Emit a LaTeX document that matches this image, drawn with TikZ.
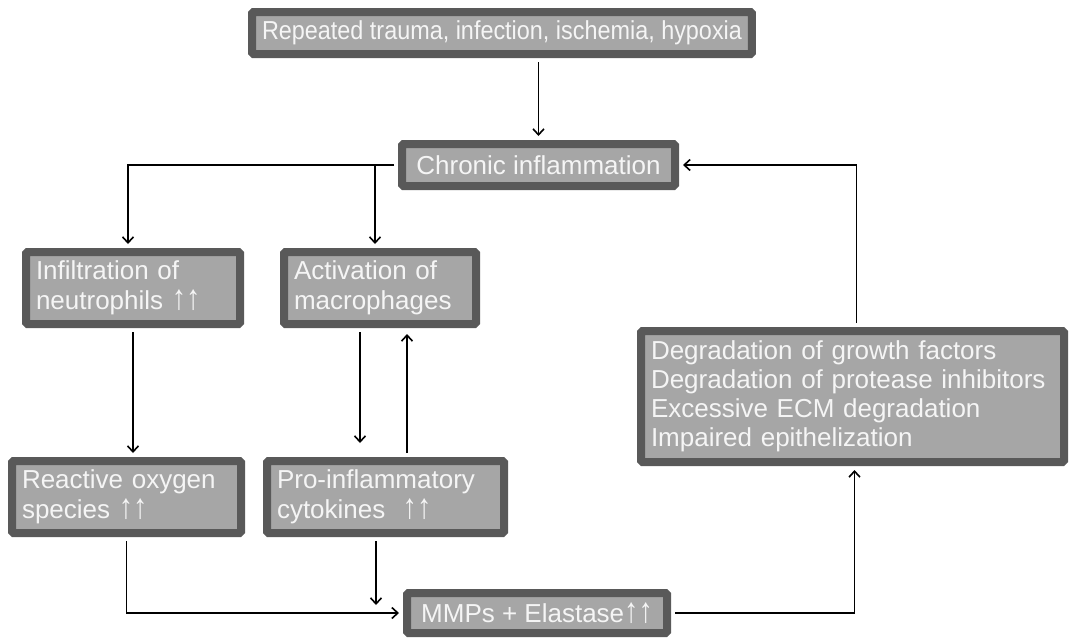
\documentclass[tikz,border=0pt]{standalone}
\usepackage{fontspec}
\usepackage{graphicx}
\setmainfont{Liberation Sans}
\usetikzlibrary{arrows.meta, positioning, calc}
\definecolor{woundgray}{RGB}{89, 89, 89}
\definecolor{woundfill}{RGB}{166, 166, 166}
\definecolor{woundtext}{RGB}{245, 245, 245}
\newcommand{\rise}{\scalebox{1.1}[1.35]{↑}}

\begin{document}
\begin{tikzpicture}[x=1pt, y=-1pt,
  stage/.style={draw=woundgray, fill=woundfill, line width=8pt, rounded corners=1.5pt,
    text=woundtext, font=\fontsize{26}{30}\selectfont, inner xsep=10pt, inner ysep=0pt},
  flow/.style={-{Straight Barb[length=6pt, width=11pt]}, line width=1.6pt, shorten >=4pt, shorten <=4pt}]
  \useasboundingbox (0,0) rectangle (1070,637);

  % boxes
  \node[stage, minimum width=490pt, minimum height=42pt] (cause) at (502,33) {\scalebox{0.9}[1]{Repeated trauma, infection, ischemia, hypoxia}};
  \node[stage, minimum width=273pt, minimum height=42pt] (chronic) at (538.5,165) {Chronic inflammation};
  \node[stage, text width=194pt, minimum height=72pt, align=left] (neutro) at (133,288) {Infiltration of\\neutrophils \rise\rise};
  \node[stage, text width=172pt, minimum height=72pt, align=left] (macro) at (380,288) {Activation of\\macrophages};
  \node[stage, text width=209pt, minimum height=72pt, align=left] (ros) at (126.5,497) {Reactive oxygen\\species \rise\rise};
  \node[stage, text width=217pt, minimum height=72pt, align=left] (cyto) at (385.5,497) {Pro-inflammatory\\cytokines \ \rise\rise};
  \node[stage, minimum width=260pt, minimum height=40pt] (mmps) at (537,613) {MMPs + Elastase\rise\rise};
  \node[stage, text width=403pt, minimum height=131pt, align=left, font=\fontsize{26}{29}\selectfont] (damage) at (852.5,396.5) {Degradation of growth factors\\Degradation of protease inhibitors\\Excessive ECM degradation\\Impaired epithelization};

  % connectors
  \coordinate (cytoend) at (376,605);
  \draw[flow] (cause.south -| chronic.north) -- (chronic.north);
  \draw[flow] (chronic.west) -| ([xshift=-5pt]neutro.north);
  \draw[flow, shorten <=0pt] ([xshift=-5pt]macro.north |- chronic.west) -- ([xshift=-5pt]macro.north);
  \draw[flow] (neutro.south) -- (neutro.south |- ros.north);
  \draw[flow, shorten >=14pt] ([xshift=-20pt]macro.south) -- ([xshift=-20pt]macro.south |- cyto.north);
  \draw[flow, shorten >=6pt] ([xshift=27pt]macro.south |- cyto.north) -- ([xshift=27pt]macro.south);
  \draw[flow] (ros.south) |- (mmps.west);
  \draw[flow, shorten >=0pt] (cyto.south -| cytoend) -- (cytoend);
  \draw[flow] (mmps.east) -| ([xshift=2pt]damage.south);
  \draw[flow] ([xshift=4pt]damage.north) |- (chronic.east);
\end{tikzpicture}
\end{document}
